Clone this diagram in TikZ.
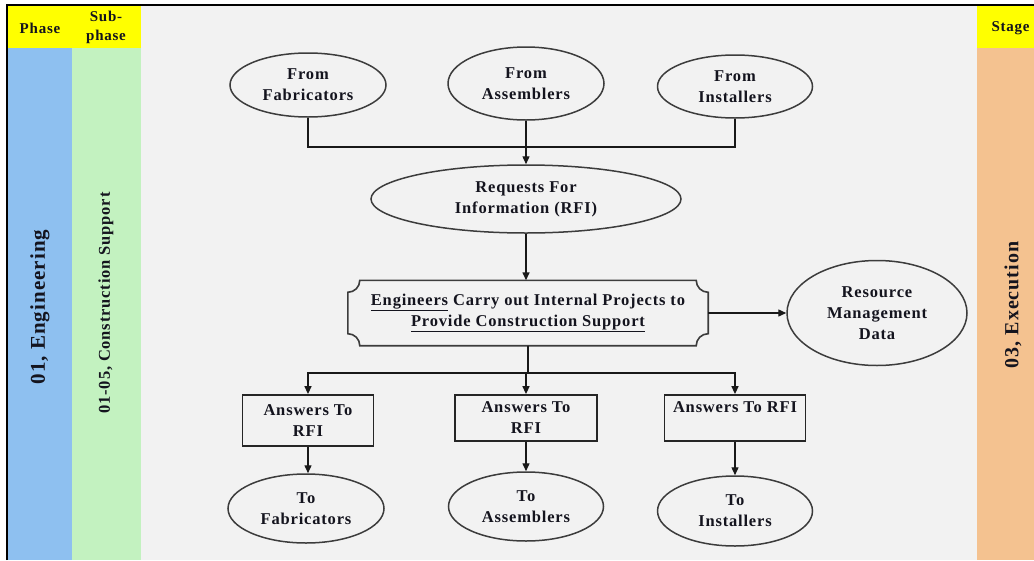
\documentclass[tikz,border=0pt]{standalone}
\usepackage{fontspec}
\setmainfont{Liberation Serif}[LetterSpace=5]
\usetikzlibrary{shapes.geometric,arrows.meta,calc}

\definecolor{panel}{HTML}{F2F2F2}
\definecolor{hdr}{HTML}{FFFF00}
\definecolor{phaseblue}{HTML}{8EC0F0}
\definecolor{subgreen}{HTML}{C3F2C0}
\definecolor{stageorange}{HTML}{F4C290}
\definecolor{ink}{HTML}{14141E}
\definecolor{rim}{HTML}{3C3C3C}

\tikzset{
  lbl/.style={font=\bfseries\fontsize{16.5}{21}\selectfont, text=ink, align=center},
  oval/.style={lbl, ellipse, draw=rim, line width=1.5pt, fill=panel, inner sep=0pt},
  answerbox/.style={lbl, rectangle, draw=black!85, line width=1.8pt, fill=panel, inner sep=0pt},
  link/.style={draw=black!90, line width=1.4pt},
  arrowlink/.style={link, -{Triangle[length=8pt,width=7pt]}},
  sidetext/.style={font=\bfseries, text=ink, rotate=90, align=center},
  headtext/.style={font=\bfseries\fontsize{15}{19}\selectfont, text=ink, align=center},
}

\begin{document}
\begin{tikzpicture}[x=1pt, y=-1pt]
  \useasboundingbox (0,0) rectangle (1034,560);

  % page background and frame
  \fill[white] (0,0) rectangle (1034,560);
  \fill[panel] (7,5) rectangle (1034,560);

  % side columns
  \fill[phaseblue] (8,48) rectangle (72,560);
  \fill[subgreen] (72,48) rectangle (141,560);
  \fill[stageorange] (977,48) rectangle (1034,560);
  \fill[hdr] (8,6) rectangle (141,48);
  \fill[hdr] (977,6) rectangle (1034,48);
  \draw[black, line width=1.5pt] (7,560) -- (7,5) -- (1034,5);

  % column headers
  \node[headtext] (hphase) at (40,28) {Phase};
  \node[headtext] (hsub) at (106,27) {Sub-\\phase};
  \node[headtext, anchor=west] (hstage) at (988,28) {Stage};

  % column titles
  \node[sidetext, font=\bfseries\fontsize{21}{24}\selectfont] (tphase) at (40,307) {01, Engineering};
  \node[sidetext, font=\bfseries\fontsize{16.5}{20}\selectfont] (tsub) at (106,303) {01-05, Construction Support};
  \node[sidetext, font=\bfseries\fontsize{20}{24}\selectfont] (tstage) at (1013,305) {03, Execution};

  % incoming requests
  \node[oval, minimum width=156, minimum height=64] (ff) at (308,85) {From\\Fabricators};
  \node[oval, minimum width=156, minimum height=73] (fa) at (526,83.5) {From\\Assemblers};
  \node[oval, minimum width=155, minimum height=63] (fi) at (735,86.5) {From\\Installers};

  \node[oval, minimum width=310, minimum height=68] (rfi) at (526,199) {Requests For\\Information (RFI)};

  % engineering work (plaque with concave corners)
  \node[lbl, minimum width=360, minimum height=65, inner sep=0pt] (eng) at (528,313)
    {\underline{Engineers} Carry out Internal Projects to\\\underline{Provide Construction Support}};
  \draw[draw=rim, line width=1.6pt]
    ($(eng.north west)+(12,0)$) -- ($(eng.north east)+(-12,0)$)
    arc[start angle=180, end angle=90, radius=12]
    -- ($(eng.south east)+(0,-12)$)
    arc[start angle=270, end angle=180, radius=12]
    -- ($(eng.south west)+(12,0)$)
    arc[start angle=0, end angle=-90, radius=12]
    -- ($(eng.north west)+(0,12)$)
    arc[start angle=90, end angle=0, radius=12] -- cycle;

  \node[oval, minimum width=180, minimum height=105] (res) at (877,313) {Resource\\Management\\Data};

  % answers
  \node[answerbox, minimum width=131, minimum height=51] (a1) at (308,420.5) {Answers To\\RFI};
  \node[answerbox, minimum width=142, minimum height=46] (a2) at (526,418) {Answers To\\RFI};
  \node[answerbox, minimum width=141, minimum height=46] (a3) at (735,418) {Answers To RFI\\\mbox{}};

  \node[oval, minimum width=156, minimum height=69] (tf) at (306,508.5) {To\\Fabricators};
  \node[oval, minimum width=155, minimum height=69] (ta) at (526,506.5) {To\\Assemblers};
  \node[oval, minimum width=155, minimum height=70] (ti) at (735,511) {To\\Installers};

  % junction points
  \coordinate (jin) at (526,147);
  \coordinate (jout) at (528,373);

  % connectors
  \draw[link] (ff.south) |- (jin) -| (fi.south);
  \draw[arrowlink] (fa.south) -- (rfi.north);
  \draw[arrowlink] (rfi.south) -- (eng.north -| rfi.south);
  \draw[arrowlink] (eng.east) -- (res.west);
  \draw[link] (eng.south) -- (jout);
  \draw[arrowlink] (jout) -| (a1.north);
  \draw[arrowlink] (jout) -| (a3.north);
  \draw[arrowlink] (jout -| a2.north) -- (a2.north);
  \draw[link] (jout) -- (jout -| a2.north);
  \draw[arrowlink] (a1.south) -- (tf.north -| a1.south);
  \draw[arrowlink] (a2.south) -- (ta.north);
  \draw[arrowlink] (a3.south) -- (ti.north);
\end{tikzpicture}
\end{document}
